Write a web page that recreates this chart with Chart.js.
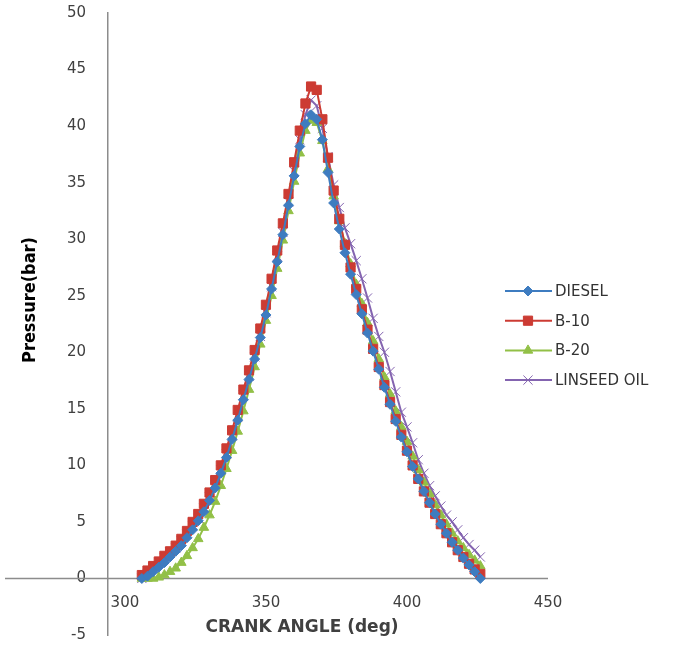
<!DOCTYPE html>
<html>
<head>
<meta charset="utf-8">
<title>Pressure vs crank angle</title>
<script src="https://cdn.jsdelivr.net/npm/chart.js@4.4.0/dist/chart.umd.min.js"></script>
<style>
  html, body { margin: 0; padding: 0; background: #fff; }
  canvas { display: block; }
</style>
</head>
<body>
<canvas id="chart" width="682" height="645"></canvas>
<script>
// crank angle (deg), shared by all four fuels
const crankAngle = [306, 308, 310, 312, 314, 316, 318, 320, 322, 324, 326, 328, 330, 332, 334, 336,
  338, 340, 342, 344, 346, 348, 350, 352, 354, 356, 358, 360, 362, 364, 366, 368, 370, 372, 374, 376,
  378, 380, 382, 384, 386, 388, 390, 392, 394, 396, 398, 400, 402, 404, 406, 408, 410, 412, 414, 416,
  418, 420, 422, 424, 426];

// cylinder pressure (bar)
const diesel = [0.0, 0.2, 0.6, 1.0, 1.4, 1.9, 2.4, 2.9, 3.6, 4.3, 5.1, 5.9, 6.9, 8.0, 9.3, 10.7,
  12.3, 14.0, 15.8, 17.6, 19.4, 21.3, 23.3, 25.6, 28.0, 30.4, 33.0, 35.6, 38.2, 40.2, 41.0, 40.6,
  38.8, 35.9, 33.2, 30.9, 28.8, 26.9, 25.1, 23.4, 21.7, 20.1, 18.5, 16.9, 15.4, 13.9, 12.5, 11.2,
  9.9, 8.8, 7.7, 6.7, 5.7, 4.8, 4.0, 3.2, 2.5, 1.8, 1.2, 0.6, 0.0];
const b10 = [0.3, 0.7, 1.1, 1.5, 2.0, 2.4, 2.9, 3.5, 4.2, 5.0, 5.7, 6.6, 7.6, 8.7, 10.0, 11.5,
  13.1, 14.9, 16.7, 18.4, 20.2, 22.1, 24.2, 26.5, 29.0, 31.4, 34.0, 36.8, 39.6, 42.0, 43.5, 43.2,
  40.6, 37.2, 34.3, 31.8, 29.5, 27.5, 25.6, 23.8, 22.0, 20.3, 18.7, 17.1, 15.6, 14.1, 12.7, 11.3,
  10.0, 8.8, 7.7, 6.7, 5.7, 4.8, 4.0, 3.2, 2.5, 1.9, 1.3, 0.8, 0.4];
const b20 = [0.0, 0.0, 0.0, 0.1, 0.3, 0.6, 0.9, 1.4, 2.0, 2.7, 3.5, 4.5, 5.6, 6.8, 8.2, 9.7,
  11.3, 13.0, 14.8, 16.7, 18.7, 20.7, 22.8, 25.0, 27.4, 29.9, 32.5, 35.1, 37.6, 39.6, 40.5, 40.3,
  38.7, 36.2, 33.8, 31.6, 29.6, 27.8, 26.0, 24.3, 22.6, 21.0, 19.4, 17.8, 16.3, 14.8, 13.4, 12.1,
  10.8, 9.6, 8.5, 7.5, 6.5, 5.6, 4.8, 4.0, 3.3, 2.7, 2.1, 1.6, 1.1];
const linseed = [0.0, 0.4, 0.9, 1.4, 1.8, 2.3, 2.7, 3.3, 3.9, 4.6, 5.3, 6.2, 7.2, 8.3, 9.6, 11.0,
  12.6, 14.3, 16.2, 17.9, 19.6, 21.4, 23.5, 25.8, 28.5, 30.6, 33.3, 36.0, 38.8, 41.0, 42.3, 41.8,
  39.8, 37.3, 34.8, 32.8, 31.0, 29.6, 28.1, 26.5, 24.8, 23.0, 21.4, 20.0, 18.3, 16.5, 14.7, 13.4,
  12.0, 10.5, 9.3, 8.2, 7.3, 6.4, 5.6, 5.0, 4.3, 3.6, 3.0, 2.5, 1.9];

const seriesNames = ['DIESEL', 'B-10', 'B-20', 'LINSEED OIL'];
const xTicks = [300, 350, 400, 450];

const axisColor = '#8c8c8c';
const labelColor = '#404040';
const tickFont = { family: 'DejaVu Sans', size: 15 };

function pts(vals) {
  return crankAngle.map((x, i) => ({ x: x, y: vals[i] }));
}

function series(label, vals, color, style, radius) {
  return {
    label: label,
    data: pts(vals),
    borderColor: color,
    backgroundColor: color,
    pointBackgroundColor: color,
    pointBorderColor: color,
    pointStyle: style,
    pointRadius: radius,
    pointBorderWidth: 1,
    borderWidth: 2,
    tension: 0,
    showLine: true,
    clip: false
  };
}

// the x axis sits on y = 0 (Excel style): zero line, its labels and both titles drawn here
const decor = {
  id: 'decor',
  beforeDatasetsDraw(chart) {
    const { ctx, chartArea, scales } = chart;
    const y0 = Math.round(scales.y.getPixelForValue(0)) + 0.5;
    ctx.save();
    ctx.strokeStyle = axisColor;
    ctx.lineWidth = 1.5;
    ctx.beginPath();
    ctx.moveTo(5, y0);
    ctx.lineTo(chartArea.right, y0);
    ctx.stroke();

    ctx.fillStyle = labelColor;
    ctx.font = '15px "DejaVu Sans"';
    ctx.textAlign = 'center';
    ctx.textBaseline = 'middle';
    xTicks.forEach(v => ctx.fillText(String(v), scales.x.getPixelForValue(v), y0 + 25));

    ctx.font = 'bold 17px "DejaVu Sans"';
    ctx.fillText('CRANK ANGLE (deg)', 302, 628);

    ctx.translate(30, 300);
    ctx.rotate(-Math.PI / 2);
    ctx.fillStyle = '#000';
    ctx.font = 'bold 18px "Liberation Sans Narrow", "DejaVu Sans Condensed", sans-serif';
    ctx.fillText('Pressure(bar)', 0, 0);
    ctx.restore();
  },
  afterDraw(chart) {
    const ctx = chart.ctx;
    ctx.save();
    chart.data.datasets.forEach((ds, i) => {
      const yy = 291 + i * 29.7;
      ctx.strokeStyle = ds.borderColor;
      ctx.lineWidth = 2;
      ctx.beginPath();
      ctx.moveTo(505, yy);
      ctx.lineTo(552, yy);
      ctx.stroke();
      ctx.fillStyle = ds.pointBackgroundColor;
      ctx.strokeStyle = ds.pointBorderColor;
      ctx.lineWidth = 1;
      Chart.helpers.drawPoint(ctx, { pointStyle: ds.pointStyle, radius: ds.pointRadius, borderWidth: 1, rotation: 0 }, 528, yy);
      ctx.fillStyle = '#333';
      ctx.font = '15px "DejaVu Sans"';
      ctx.textAlign = 'left';
      ctx.textBaseline = 'middle';
      ctx.fillText(ds.label, 555, yy + 1);
    });
    ctx.restore();
  }
};

new Chart(document.getElementById('chart'), {
  type: 'scatter',
  data: {
    datasets: [
      series(seriesNames[0], diesel, '#3E7CC0', 'rectRot', 5),
      series(seriesNames[1], b10, '#CC3B33', 'rect', 6.5),
      series(seriesNames[2], b20, '#92C047', 'triangle', 5.5),
      series(seriesNames[3], linseed, '#8464B0', 'crossRot', 6.5)
    ]
  },
  options: {
    responsive: false,
    animation: false,
    layout: { autoPadding: false, padding: { left: 0, top: 13, right: 134, bottom: 10 } },
    plugins: { legend: { display: false }, tooltip: { enabled: false } },
    scales: {
      x: {
        type: 'linear',
        display: false,
        min: 294,
        max: 450
      },
      y: {
        type: 'linear',
        min: -5,
        max: 50,
        // fixed width; tick padding must not push the plot area down
        afterFit: (scale) => { scale.width = 108; scale.paddingTop = 0; scale.paddingBottom = 0; },
        grid: { display: false, drawTicks: false },
        border: { display: true, color: axisColor, width: 1.5 },
        ticks: { stepSize: 5, font: tickFont, color: labelColor, padding: 22 }
      }
    }
  },
  plugins: [decor]
});
</script>
</body>
</html>
